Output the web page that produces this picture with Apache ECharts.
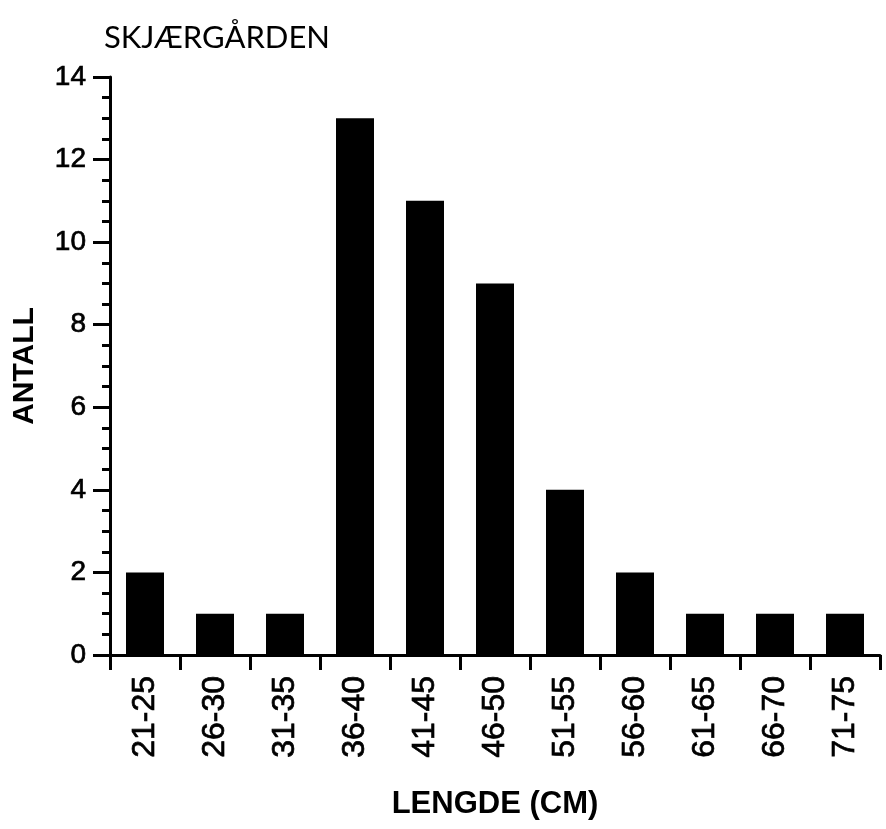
<!DOCTYPE html>
<html><head><meta charset="utf-8">
<script src="https://cdn.jsdelivr.net/npm/echarts@6/dist/echarts.min.js"></script>
<style>html,body{margin:0;padding:0;background:#fff}#c{width:886px;height:829px}</style>
</head><body><div id="c"></div>
<script>
const categories = ['21-25','26-30','31-35','36-40','41-45','46-50','51-55','56-60','61-65','66-70','71-75'];
const counts = [2,1,1,13,11,9,4,2,1,1,1];
const yTicks = {min:0, max:14, interval:2};
const titleText = 'SKJÆRGÅRDEN';
const xName = 'LENGDE (CM)';
const yName = 'ANTALL';

const chart = echarts.init(document.getElementById('c'), null, {renderer:'canvas'});
const font = 'Liberation Sans, Arial, sans-serif';
chart.setOption({
  animation:false,
  backgroundColor:'#fff',
  title:{text:titleText, left:99, top:17, textStyle:{fontFamily:'Lato, sans-serif', fontWeight:'normal', fontSize:31, color:'#000'}},
  grid:{left:110, right:6, top:77, bottom:174, containLabel:false},
  xAxis:{
    type:'category', data:categories, boundaryGap:true,
    name:xName, nameLocation:'middle', nameGap:134,
    nameTextStyle:{fontFamily:font, fontWeight:'bold', fontSize:31, color:'#000'},
    axisLine:{lineStyle:{color:'#000', width:3}},
    axisTick:{show:true, length:15, lineStyle:{color:'#000', width:3}},
    axisLabel:{rotate:90, margin:21, fontFamily:font, fontSize:32, color:'#000', textBorderColor:'#000', textBorderWidth:0.7},
    splitLine:{show:false}
  },
  yAxis:{
    type:'value', min:yTicks.min, max:yTicks.max, interval:yTicks.interval,
    name:yName, nameLocation:'middle', nameGap:70, nameRotate:90,
    nameTextStyle:{fontFamily:font, fontWeight:'bold', fontSize:30, color:'#000'},
    axisLine:{show:true, lineStyle:{color:'#000', width:3}},
    axisTick:{show:true, length:17, lineStyle:{color:'#000', width:3}},
    minorTick:{show:true, splitNumber:4, length:8, lineStyle:{color:'#000', width:3}},
    axisLabel:{margin:24, fontFamily:font, fontSize:28, color:'#000', textBorderColor:'#000', textBorderWidth:0.7},
    splitLine:{show:false}
  },
  series:[{type:'bar', data:counts, barWidth:38, itemStyle:{color:'#000'}}]
});
</script></body></html>
